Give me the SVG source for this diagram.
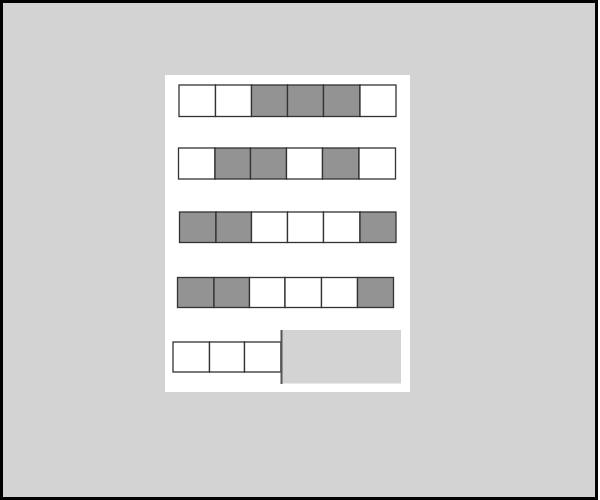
<svg xmlns="http://www.w3.org/2000/svg" width="600" height="500" viewBox="0 0 600 500">
<style>
.c{stroke:#333;stroke-width:1.3}
.w{fill:#fff}
.g{fill:#939393}
</style>
<rect x="0" y="0" width="600" height="500" fill="#fff"/>
<rect x="1.5" y="1.5" width="595" height="497" fill="#d3d3d3" stroke="#000" stroke-width="3"/>
<rect id="panel" x="165" y="75" width="245" height="317" fill="#fff"/>
<g id="row1">
<rect class="c w" x="179" y="85" width="36.5" height="31.5"/>
<rect class="c w" x="215.5" y="85" width="36" height="31.5"/>
<rect class="c g" x="251.5" y="85" width="36" height="31.5"/>
<rect class="c g" x="287.5" y="85" width="36" height="31.5"/>
<rect class="c g" x="323.5" y="85" width="36.5" height="31.5"/>
<rect class="c w" x="360" y="85" width="36" height="31.5"/>
</g>
<g id="row2">
<rect class="c w" x="178.5" y="148" width="36.5" height="31"/>
<rect class="c g" x="215" y="148" width="35.5" height="31"/>
<rect class="c g" x="250.5" y="148" width="36" height="31"/>
<rect class="c w" x="286.5" y="148" width="36" height="31"/>
<rect class="c g" x="322.5" y="148" width="36.5" height="31"/>
<rect class="c w" x="359" y="148" width="36.5" height="31"/>
</g>
<g id="row3">
<rect class="c g" x="179.5" y="212" width="36.5" height="30.5"/>
<rect class="c g" x="216" y="212" width="35.5" height="30.5"/>
<rect class="c w" x="251.5" y="212" width="36" height="30.5"/>
<rect class="c w" x="287.5" y="212" width="36" height="30.5"/>
<rect class="c w" x="323.5" y="212" width="36.5" height="30.5"/>
<rect class="c g" x="360" y="212" width="36" height="30.5"/>
</g>
<g id="row4">
<rect class="c g" x="177.5" y="277.5" width="36.5" height="30"/>
<rect class="c g" x="214" y="277.5" width="35.5" height="30"/>
<rect class="c w" x="249.5" y="277.5" width="35.5" height="30"/>
<rect class="c w" x="285" y="277.5" width="36.5" height="30"/>
<rect class="c w" x="321.5" y="277.5" width="36" height="30"/>
<rect class="c g" x="357.5" y="277.5" width="36" height="30"/>
</g>
<g id="row5">
<rect class="c w" x="173" y="342" width="36.5" height="30"/>
<rect class="c w" x="209.5" y="342" width="35" height="30"/>
<rect class="c w" x="244.5" y="342" width="36.5" height="30"/>
<rect x="281" y="330" width="120" height="53.5" fill="#d3d3d3"/>
<line x1="281.5" y1="330" x2="281.5" y2="384" stroke="#555" stroke-width="2"/>
</g>
</svg>
